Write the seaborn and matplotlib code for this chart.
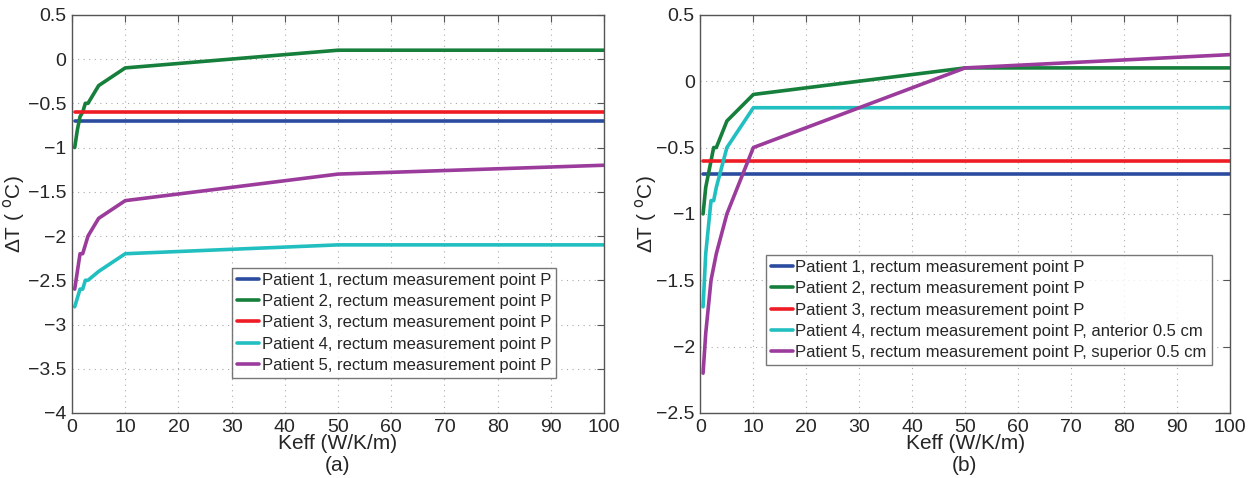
import numpy as np
import matplotlib
matplotlib.use("Agg")
import matplotlib.pyplot as plt
import seaborn as sns

# Keff values (W/K/m)
keff = [0.5, 1, 1.5, 2, 2.5, 3, 5, 10, 50, 100]
keff_flat = [0.5, 100]

# (a) dT per patient
a_p1 = [-0.7, -0.7]
a_p3 = [-0.6, -0.6]
a_p2 = [-1.0, -0.8, -0.65, -0.6, -0.5, -0.5, -0.3, -0.1, 0.1, 0.1]
a_p4 = [-2.8, -2.7, -2.6, -2.6, -2.5, -2.5, -2.4, -2.2, -2.1, -2.1]
a_p5 = [-2.6, -2.4, -2.2, -2.2, -2.1, -2.0, -1.8, -1.6, -1.3, -1.2]

# (b) dT per patient
b_p1 = [-0.7, -0.7]
b_p3 = [-0.6, -0.6]
b_p2 = [-1.0, -0.8, -0.7, -0.6, -0.5, -0.5, -0.3, -0.1, 0.1, 0.1]
b_p4 = [-1.7, -1.3, -1.1, -0.9, -0.9, -0.8, -0.5, -0.2, -0.2, -0.2]
b_p5 = [-2.2, -1.9, -1.7, -1.5, -1.4, -1.3, -1.0, -0.5, 0.1, 0.2]

labels_a = ["Patient 1, rectum measurement point P",
            "Patient 2, rectum measurement point P",
            "Patient 3, rectum measurement point P",
            "Patient 4, rectum measurement point P",
            "Patient 5, rectum measurement point P"]
labels_b = labels_a[:3] + ["Patient 4, rectum measurement point P, anterior 0.5 cm",
                           "Patient 5, rectum measurement point P, superior 0.5 cm"]
colors = ["#2B4BA0", "#157F3B", "#EE1C25", "#22BFC0", "#9B3B9B"]

sns.set_style("white")
plt.rcParams["font.family"] = ["Liberation Sans", "DejaVu Sans"]

fig = plt.figure(figsize=(12.53, 4.78), dpi=100)
ax1 = fig.add_axes([0.0575, 0.136, 0.4245, 0.833])
ax2 = fig.add_axes([0.559, 0.136, 0.4225, 0.833])

def fmt(v):
    s = "%g" % v
    return s.replace("-", "\u2212")

def draw(ax, series, labels):
    xs = [keff_flat, keff, keff_flat, keff, keff]
    for x, y, lab, c in zip(xs, series, labels, colors):
        sns.lineplot(x=x, y=y, ax=ax, color=c, linewidth=2.6, label=lab, sort=False)
    ax.set_xlim(0, 100)
    ax.set_xticks(np.arange(0, 101, 10))
    ax.grid(True, linestyle=(0, (1, 4)), color="#aaaaaa", linewidth=0.8)
    ax.tick_params(direction="in", top=True, right=True, labelsize=14, length=5,
                   color="#555555", pad=4)
    for s in ax.spines.values():
        s.set_color("#555555")
        s.set_linewidth(1.0)
    ax.set_xlabel("Keff (W/K/m)", fontsize=15, labelpad=-1)
    ax.set_ylabel(r"ΔT ( $^{\mathrm{o}}$C)", fontsize=15)

def leg(ax, anchor):
    ax.legend(loc="lower right", bbox_to_anchor=anchor, fontsize=12, frameon=True,
              fancybox=False, edgecolor="#555555", handlelength=1.3, handletextpad=0.15,
              borderpad=0.3, labelspacing=0.38, borderaxespad=0)

draw(ax1, [a_p1, a_p2, a_p3, a_p4, a_p5], labels_a)
ax1.set_ylim(-4, 0.5)
ticks1 = np.arange(-4, 0.51, 0.5)
ax1.set_yticks(ticks1)
ax1.set_yticklabels([fmt(t) for t in ticks1])
ax1.yaxis.set_label_coords(-0.084, 0.5)
leg(ax1, (0.91, 0.088))

draw(ax2, [b_p1, b_p2, b_p3, b_p4, b_p5], labels_b)
ax2.set_ylim(-2.5, 0.5)
ticks2 = np.arange(-2.5, 0.51, 0.5)
ax2.set_yticks(ticks2)
ax2.set_yticklabels([fmt(t) for t in ticks2])
ax2.yaxis.set_label_coords(-0.078, 0.5)
leg(ax2, (0.966, 0.12))

fig.text(0.2695, 0.015, "(a)", ha="center", fontsize=15)
fig.text(0.770, 0.015, "(b)", ha="center", fontsize=15)

fig.savefig("out.png", dpi=100)
